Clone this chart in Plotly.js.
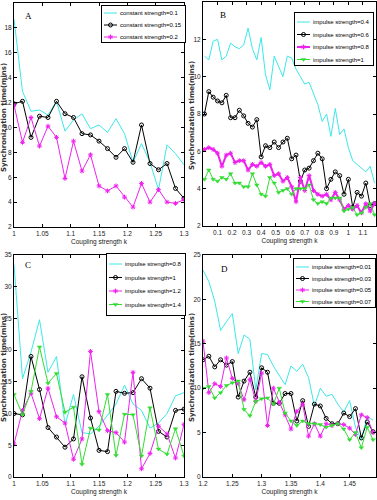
<!DOCTYPE html>
<html>
<head>
<meta charset="utf-8">
<script src="https://cdn.plot.ly/plotly-3.0.1.min.js"></script>
<style>html,body{margin:0;padding:0;background:#fff;}#chart{width:377px;height:500px;}</style>
</head>
<body>
<div id="chart"></div>
<script>
// ---------- DATA ----------
// Panel A
const kA = [1, 1.015, 1.03, 1.045, 1.06, 1.075, 1.09, 1.105, 1.12, 1.135, 1.15, 1.165, 1.18, 1.195, 1.21, 1.225, 1.24, 1.255, 1.27, 1.285, 1.3];
const namesA = ["constant strength=0.1", "constant strength=0.15", "constant strength=0.2"];
const a01 = [18.7, 12.9, 11.3, 11.4, 11.0, 12.1, 9.7, 10.6, 11.1, 9.9, 10.2, 9.6, 10.7, 9.5, 7.2, 8.7, 7.2, 5.0, 8.6, 7.9, 7.0];
const a015 = [11.9, 12.1, 9.2, 10.9, 10.8, 12.1, 11.1, 10.8, 9.5, 9.4, 8.9, 8.3, 7.6, 8.3, 7.2, 10.2, 7.1, 6.6, 7.1, 5.1, 4.3];
const a02 = [11.8, 8.8, 10.8, 8.5, 10.1, 9.2, 5.9, 8.9, 6.5, 7.8, 5.3, 4.9, 5.3, 4.4, 3.6, 5.5, 4.0, 5.0, 4.0, 3.9, 4.2];

// Panel B
const kB = [0.01, 0.04, 0.07, 0.10, 0.13, 0.16, 0.19, 0.22, 0.25, 0.28, 0.31, 0.34, 0.37, 0.40, 0.43, 0.46, 0.49, 0.52, 0.55, 0.58, 0.61, 0.64, 0.67, 0.70, 0.73, 0.76, 0.79, 0.82, 0.85, 0.88, 0.91, 0.94, 0.97, 1.00, 1.03, 1.06, 1.09, 1.12, 1.15, 1.18];
const namesB = ["impulse strength=0.4", "impulse strength=0.6", "impulse strength=0.8", "impulse strength=1"];
const b04 = [11.1, 10.9, 11.9, 12.0, 10.9, 11.1, 11.8, 11.6, 11.5, 11.7, 12.6, 11.5, 10.9, 12.1, 10.1, 9.3, 11.1, 10.5, 10.0, 11.1, 11.0, 10.4, 10.0, 9.6, 9.7, 9.1, 8.5, 7.6, 8.0, 6.8, 8.3, 6.9, 7.2, 6.2, 5.5, 5.3, 5.1, 4.9, 5.2, 4.3];
const b06 = [8.0, 9.2, 8.9, 8.7, 8.6, 9.0, 7.8, 7.8, 8.2, 7.9, 7.5, 7.3, 7.7, 5.7, 6.3, 6.2, 6.5, 6.2, 6.5, 6.7, 5.6, 5.8, 4.4, 5.0, 5.1, 5.5, 5.9, 5.6, 4.0, 4.5, 4.9, 4.7, 3.7, 4.5, 3.0, 3.8, 3.6, 4.3, 3.1, 3.2];
const b08 = [6.1, 6.2, 6.1, 5.9, 5.2, 5.8, 5.9, 5.4, 5.5, 5.5, 5.0, 5.3, 5.2, 5.4, 5.2, 5.3, 4.7, 4.8, 4.4, 4.6, 4.1, 3.3, 4.6, 3.9, 4.7, 3.9, 3.7, 3.6, 3.7, 3.4, 3.8, 3.4, 2.9, 3.1, 2.9, 3.1, 2.7, 3.2, 2.8, 3.2];
const b1 = [4.5, 5.0, 4.5, 4.4, 4.6, 4.5, 4.8, 4.3, 4.3, 4.1, 4.1, 4.8, 4.2, 3.7, 3.6, 4.6, 4.3, 3.8, 3.9, 4.0, 3.7, 4.0, 4.0, 4.0, 4.2, 3.4, 3.2, 3.3, 3.2, 3.5, 3.5, 3.5, 2.8, 2.9, 3.0, 2.6, 2.7, 3.0, 3.2, 2.6];

// Panel C
const kC = [1, 1.015, 1.03, 1.045, 1.06, 1.075, 1.09, 1.105, 1.12, 1.135, 1.15, 1.165, 1.18, 1.195, 1.21, 1.225, 1.24, 1.255, 1.27, 1.285, 1.3];
const namesC = ["impulse strength=0.8", "impulse strength=1", "impulse strength=1.2", "impulse strength=1.4"];
const c08 = [33.5, 15.5, 19.7, 24.8, 16.5, 19.0, 8.2, 13.0, 7.0, 6.8, 8.0, 9.8, 11.5, 14.5, 11.5, 10.5, 7.7, 8.5, 10.0, 12.8, 13.3];
const c1 = [10.0, 9.8, 19.0, 13.8, 7.8, 6.3, 4.7, 6.0, 15.8, 9.3, 4.2, 4.0, 13.5, 13.2, 13.3, 15.5, 14.0, 7.2, 6.3, 10.5, 10.7];
const c12 = [5.2, 10.5, 13.2, 9.2, 14.0, 9.5, 8.5, 2.8, 6.0, 19.8, 10.3, 7.3, 7.0, 5.5, 16.5, 1.3, 3.7, 8.0, 6.8, 3.0, 8.3];
const c14 = [13.0, 9.8, 13.5, 20.5, 14.8, 16.3, 10.2, 11.0, 2.0, 7.7, 7.4, 13.0, 3.4, 9.9, 9.8, 3.3, 10.9, 4.4, 3.6, 7.6, 3.3];

// Panel D
const kD = [1.20, 1.21, 1.22, 1.23, 1.24, 1.25, 1.26, 1.27, 1.28, 1.29, 1.30, 1.31, 1.32, 1.33, 1.34, 1.35, 1.36, 1.37, 1.38, 1.39, 1.40, 1.41, 1.42, 1.43, 1.44, 1.45, 1.46, 1.47, 1.48, 1.49];
const namesD = ["impulse strength=0.01", "impulse strength=0.03", "impulse strength=0.05", "impulse strength=0.07"];
const d001 = [23.3, 22.0, 19.8, 16.5, 17.5, 18.4, 13.9, 16.0, 15.5, 9.8, 13.9, 13.8, 12.5, 11.5, 10.4, 12.5, 11.9, 12.7, 11.2, 8.0, 10.0, 9.1, 9.3, 8.2, 7.3, 8.6, 5.6, 4.2, 6.8, 6.4];
const d003 = [13.2, 13.6, 12.4, 13.2, 12.6, 13.0, 9.0, 10.8, 11.8, 9.0, 12.3, 11.8, 8.3, 8.3, 9.4, 9.4, 6.3, 8.6, 5.7, 8.2, 8.0, 6.6, 6.0, 6.0, 7.2, 6.8, 7.7, 4.4, 6.2, 5.1];
const d005 = [15.3, 9.5, 10.5, 10.2, 13.4, 11.1, 10.5, 8.7, 11.0, 8.5, 11.7, 5.8, 10.0, 8.4, 7.0, 5.4, 7.4, 8.2, 4.6, 6.0, 4.6, 6.0, 5.8, 6.0, 5.9, 5.5, 4.8, 7.0, 6.7, 5.0];
const d007 = [10.0, 10.2, 8.9, 9.5, 10.3, 10.6, 10.8, 7.6, 6.9, 8.5, 8.8, 8.9, 8.2, 10.0, 7.2, 6.3, 5.8, 6.3, 6.0, 6.0, 5.9, 5.6, 5.8, 6.0, 5.4, 4.2, 5.0, 3.3, 5.6, 4.2];

// ---------- STYLES ----------
const CYAN = '#3ce8e8', BLACK = '#000000', MAG = '#ee22ee', GREEN = '#33dd33';
const FONT = 'Liberation Sans Narrow, Liberation Sans, Arial, sans-serif';
const styles = [
  {line: {color: CYAN, width: 1}, mode: 'lines'},
  {line: {color: BLACK, width: 1}, mode: 'lines+markers', marker: {symbol: 'circle-open', size: 4, color: BLACK, line: {width: 1, color: BLACK}}},
  {line: {color: MAG, width: 1}, mode: 'lines+markers', marker: {symbol: 'asterisk-open', size: 4, color: MAG, line: {width: 1, color: MAG}}},
  {line: {color: GREEN, width: 1}, mode: 'lines+markers', marker: {symbol: 'triangle-down', size: 4, color: GREEN, line: {width: 0.5, color: GREEN}}}
];

function mk(x, ys, names, xa, ya, leg, styleIdx) {
  return ys.map((y, i) => Object.assign({
    type: 'scatter', x: x, y: y, name: names[i], xaxis: xa, yaxis: ya, legend: leg
  }, JSON.parse(JSON.stringify(styles[styleIdx[i]]))));
}

const traces = [].concat(
  mk(kA, [a01, a015, a02], namesA, 'x', 'y', 'legend', [0, 1, 2]),
  mk(kB, [b04, b06, b08, b1], namesB, 'x2', 'y2', 'legend2', [0, 1, 2, 3]),
  mk(kC, [c08, c1, c12, c14], namesC, 'x3', 'y3', 'legend3', [0, 1, 2, 3]),
  mk(kD, [d001, d003, d005, d007], namesD, 'x4', 'y4', 'legend4', [0, 1, 2, 3])
);
traces[5].line.width = 2;  // thicker magenta line in panel B

function axis(extra) {
  return Object.assign({
    showgrid: false, zeroline: false, showline: true, linecolor: '#000', linewidth: 1,
    mirror: 'ticks', ticks: 'inside', ticklen: 3, tickcolor: '#000', tickwidth: 1,
    tickfont: {family: FONT, size: 6.5, color: '#222'}, automargin: false
  }, extra);
}
const xTitle = {text: 'Coupling strength k', font: {family: FONT, size: 6.5, color: '#222'}, standoff: 3};

const xd1 = [14/377, 184/377], xd2 = [203/377, 376/377];
const yd1 = [1 - 227/500, 1 - 3/500], yd2 = [1 - 226/500, 1 - 2/500], yd3 = [1 - 477/500, 1 - 255/500];

function legend(x, y) {
  return {x: x, y: y, xanchor: 'right', yanchor: 'top', xref: 'paper', yref: 'paper',
    bgcolor: '#fff', bordercolor: '#000', borderwidth: 1,
    font: {family: FONT, size: 6, color: '#000'}, tracegroupgap: 0, itemwidth: 30};
}
function ytitle(x, y) {
  return {text: 'Synchronization time(mins)', x: x, y: y, xref: 'paper', yref: 'paper',
    xanchor: 'center', yanchor: 'middle', textangle: -90, showarrow: false,
    font: {family: 'DejaVu Sans, sans-serif', size: 7, weight: 'bold', color: '#333'}};
}
function letter(t, x, y) {
  return {text: t, x: x, y: y, xref: 'paper', yref: 'paper', showarrow: false,
    xanchor: 'center', yanchor: 'middle',
    font: {family: 'Liberation Serif, Times New Roman, serif', size: 9, color: '#000'}};
}

const layout = {
  width: 377, height: 500, margin: {l: 0, r: 0, t: 0, b: 0},
  paper_bgcolor: '#fff', plot_bgcolor: '#fff', showlegend: true,
  xaxis: axis({domain: xd1, anchor: 'y', range: [1, 1.3], tickvals: [1, 1.05, 1.1, 1.15, 1.2, 1.25, 1.3], ticktext: ['1', '1.05', '1.1', '1.15', '1.2', '1.25', '1.3'], title: xTitle}),
  yaxis: axis({domain: yd1, anchor: 'x', range: [2, 20], tickvals: [2, 4, 6, 8, 10, 12, 14, 16, 18, 20]}),
  xaxis2: axis({domain: xd2, anchor: 'y2', range: [0, 1.19], tickvals: [0.1, 0.2, 0.3, 0.4, 0.5, 0.6, 0.7, 0.8, 0.9, 1, 1.1], ticktext: ['0.1', '0.2', '0.3', '0.4', '0.5', '0.6', '0.7', '0.8', '0.9', '1', '1.1'], title: xTitle}),
  yaxis2: axis({domain: yd2, anchor: 'x2', range: [2, 14], tickvals: [2, 4, 6, 8, 10, 12, 14]}),
  xaxis3: axis({domain: xd1, anchor: 'y3', range: [1, 1.3], tickvals: [1, 1.05, 1.1, 1.15, 1.2, 1.25, 1.3], ticktext: ['1', '1.05', '1.1', '1.15', '1.2', '1.25', '1.3'], title: xTitle}),
  yaxis3: axis({domain: yd3, anchor: 'x3', range: [0, 35], tickvals: [0, 5, 10, 15, 20, 25, 30, 35]}),
  xaxis4: axis({domain: xd2, anchor: 'y4', range: [1.2, 1.495], tickvals: [1.2, 1.25, 1.3, 1.35, 1.4, 1.45], ticktext: ['1.2', '1.25', '1.3', '1.35', '1.4', '1.45'], title: xTitle}),
  yaxis4: axis({domain: yd3, anchor: 'x4', range: [0, 25], tickvals: [0, 5, 10, 15, 20, 25]}),
  legend: legend(185/377, 1 - 5/500),
  legend2: legend(373/377, 1 - 12/500),
  legend3: legend(185/377, 1 - 253/500),
  legend4: legend(375/377, 1 - 258/500),
  annotations: [
    ytitle(4/377, 1 - 118/500), ytitle(192/377, 1 - 116/500),
    ytitle(4/377, 1 - 368/500), ytitle(192/377, 1 - 368/500),
    letter('A', 28/377, 1 - 16/500), letter('B', 223/377, 1 - 15/500),
    letter('C', 28/377, 1 - 265/500), letter('D', 224/377, 1 - 269/500)
  ]
};

// compact, MATLAB-like legend boxes (Plotly's minimum item height is taller than the original)
const legendBoxes = {
  legend:  {right: 185, top: 5,   c0: 8,  step: 12,   h: 37},
  legend2: {right: 373, top: 12,  c0: 10, step: 12.5, h: 53},
  legend3: {right: 185, top: 253, c0: 11, step: 13.5, h: 62},
  legend4: {right: 375, top: 258, c0: 9,  step: 11.5, h: 49}
};

function compactLegends(gd) {
  Object.keys(legendBoxes).forEach(function (id) {
    const c = legendBoxes[id];
    const groups = gd.querySelectorAll('g.' + id);
    groups.forEach(function (g) {
      if (g.getAttribute('class').split(' ').indexOf(id) < 0) return;
      const items = g.querySelectorAll('g.traces');
      let maxW = 0;
      items.forEach(function (it, i) {
        it.setAttribute('transform', 'translate(0,' + (c.c0 + i * c.step) + ')');
        it.querySelectorAll('path.js-line').forEach(function (p) { p.setAttribute('d', 'M3,0h13'); });
        it.querySelectorAll('path.scatterpts').forEach(function (p) { p.setAttribute('transform', 'translate(9.5,0)'); });
        it.querySelectorAll('text').forEach(function (t) {
          t.setAttribute('x', 19);
          t.querySelectorAll('tspan').forEach(function (s) { s.setAttribute('x', 19); });
          let wt = 0;
          try { wt = t.getComputedTextLength(); } catch (e) { wt = 0; }
          if (!wt) { try { wt = t.getBBox().width; } catch (e) { wt = 0; } }
          if (!wt) wt = (t.textContent || '').length * 2.9;
          maxW = Math.max(maxW, wt);
        });
      });
      const w = Math.round(19 + maxW + 4);
      const bg = g.querySelector('rect.bg');
      if (bg) { bg.setAttribute('width', w); bg.setAttribute('height', c.h); bg.setAttribute('x', 0.5); bg.setAttribute('y', 0.5); }
      g.querySelectorAll('.scrollbox').forEach(function (sb) { sb.removeAttribute('clip-path'); sb.setAttribute('transform', ''); });
      g.setAttribute('transform', 'translate(' + (c.right - w) + ',' + c.top + ')');
    });
  });
}

Plotly.newPlot('chart', traces, layout, {staticPlot: true, displayModeBar: false}).then(function (gd) {
  compactLegends(gd);
  gd.on('plotly_afterplot', function () { compactLegends(gd); });
  setTimeout(function () { compactLegends(gd); }, 0);
  setTimeout(function () { compactLegends(gd); }, 100);
  setTimeout(function () { compactLegends(gd); }, 400);
});
</script>
</body>
</html>
